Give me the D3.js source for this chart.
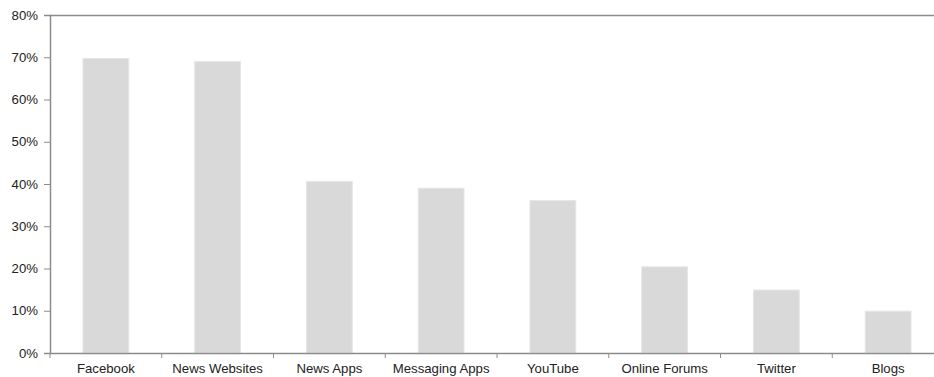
<!DOCTYPE html>
<html><head><meta charset="utf-8">
<script src="https://cdn.jsdelivr.net/npm/d3@7"></script>
<style>body{margin:0;background:#fff;} svg{display:block;}</style>
</head><body>
<svg id="c" width="934" height="377"></svg>
<script>
const categories = ["Facebook","News Websites","News Apps","Messaging Apps","YouTube","Online Forums","Twitter","Blogs"];
const values = [69.7, 69.0, 40.6, 39.0, 36.1, 20.4, 14.9, 9.9];
const yTicks = [0,10,20,30,40,50,60,70,80];

const svg = d3.select("#c");
const mLeft = 50, mRight = 944, mTop = 15, mBottom = 353;
const x = d3.scaleBand().domain(categories).range([mLeft, mRight]).paddingInner(0.59).paddingOuter(0.295);
const y = d3.scaleLinear().domain([0,80]).range([mBottom, mTop]);
const axisColor = "#8c8c8c";
const font = "Liberation Sans, Arial, sans-serif";

// bars
svg.append("g").selectAll("rect").data(categories).join("rect")
  .attr("x", d => x(d)).attr("width", x.bandwidth())
  .attr("y", (d,i) => y(values[i])).attr("height", (d,i) => y(0) - y(values[i]))
  .attr("fill", "#d9d9d9").attr("stroke", "#e6e6e6").attr("stroke-width", 1);

// top border
svg.append("line").attr("x1", mLeft).attr("x2", mRight).attr("y1", mTop + 0.5).attr("y2", mTop + 0.5)
  .attr("stroke", axisColor).attr("stroke-width", 1.5);

// y axis
const ya = svg.append("g").attr("transform", `translate(${mLeft},0)`)
  .call(d3.axisLeft(y).tickValues(yTicks).tickFormat(d => d + "%").tickSize(6).tickPadding(6));
ya.select(".domain").attr("stroke", axisColor).attr("stroke-width", 1.5);
ya.selectAll(".tick line").attr("stroke", axisColor);
ya.selectAll("text").attr("fill", "#222").style("font-family", font).style("font-size", "13.2px");

// x axis
const xa = svg.append("g").attr("transform", `translate(0,${mBottom})`)
  .call(d3.axisBottom(x).tickSize(0).tickPadding(11));
xa.select(".domain").attr("stroke", axisColor).attr("stroke-width", 1.5);
xa.selectAll("text").attr("fill", "#222").style("font-family", font).style("font-size", "13.2px");
// boundary ticks
const bounds = d3.range(categories.length + 1).map(i => mLeft + i * (mRight - mLeft) / categories.length);
svg.append("g").selectAll("line").data(bounds).join("line")
  .attr("x1", d => d).attr("x2", d => d).attr("y1", mBottom).attr("y2", mBottom + 5)
  .attr("stroke", axisColor).attr("stroke-width", 1);
</script>
</body></html>
